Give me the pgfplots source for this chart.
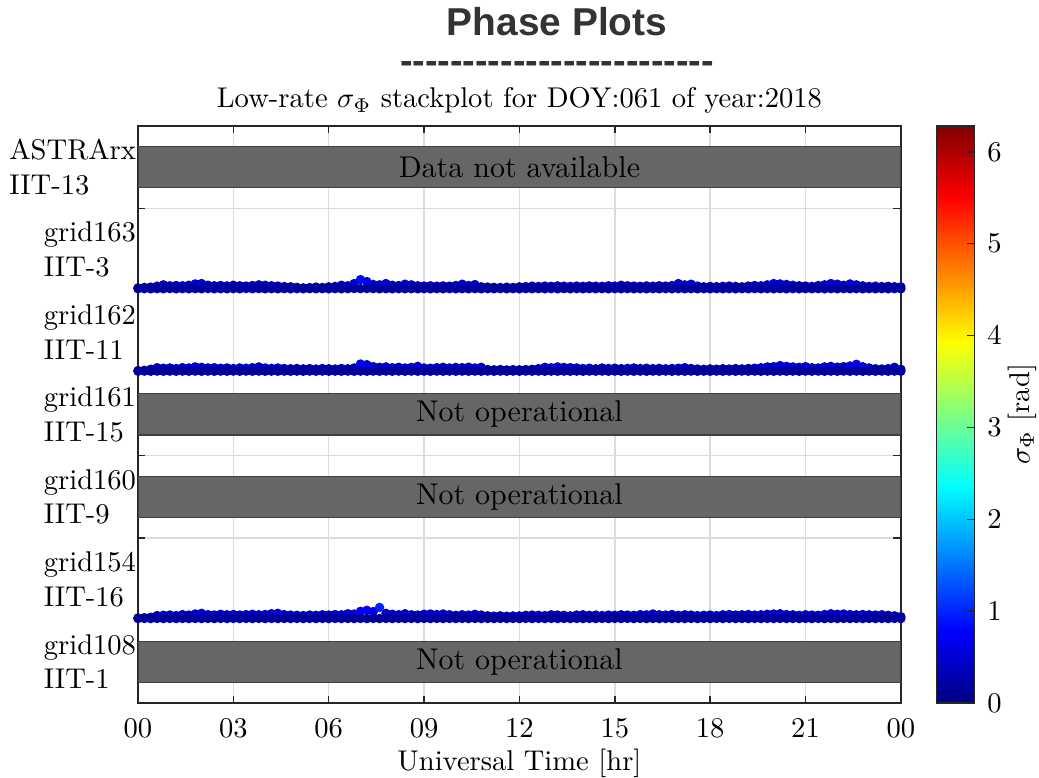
\documentclass[border=0pt]{standalone}
\usepackage{fontspec}
\usepackage{pgfplots}
\pgfplotsset{compat=1.18}
\usepackage{pgfplotstable}
\newfontfamily\headfont{Liberation Sans}
\definecolor{boxgray}{HTML}{666666}
\definecolor{axgray}{HTML}{262626}
\definecolor{gridgray}{HTML}{DCDCDC}
\definecolor{headgray}{HTML}{333333}

% grid163 / IIT-3 : x [hr], b = baseline sigma, u = upper sigma [rad]
\pgfplotstableread{
x b u
0.0 0.15 0.22
0.2 0.16 0.25
0.4 0.15 0.28
0.6 0.16 0.35
0.8 0.15 0.45
1.0 0.17 0.38
1.2 0.15 0.40
1.4 0.16 0.38
1.6 0.15 0.42
1.8 0.16 0.52
2.0 0.15 0.55
2.2 0.17 0.42
2.4 0.15 0.38
2.6 0.16 0.40
2.8 0.15 0.37
3.0 0.16 0.42
3.2 0.15 0.38
3.4 0.17 0.36
3.6 0.15 0.40
3.8 0.16 0.45
4.0 0.15 0.42
4.2 0.16 0.38
4.4 0.15 0.36
4.6 0.16 0.32
4.8 0.15 0.30
5.0 0.16 0.26
5.2 0.15 0.22
5.4 0.16 0.24
5.6 0.15 0.28
5.8 0.16 0.25
6.0 0.15 0.30
6.2 0.16 0.33
6.4 0.15 0.42
6.6 0.16 0.38
6.8 0.17 0.55
7.0 0.16 0.85
7.2 0.17 0.70
7.4 0.16 0.48
7.6 0.15 0.45
7.8 0.16 0.55
8.0 0.15 0.42
8.2 0.16 0.40
8.4 0.15 0.50
8.6 0.16 0.45
8.8 0.15 0.38
9.0 0.16 0.36
9.2 0.15 0.38
9.4 0.16 0.35
9.6 0.15 0.37
9.8 0.16 0.35
10.0 0.15 0.40
10.2 0.16 0.50
10.4 0.15 0.40
10.6 0.16 0.47
10.8 0.15 0.30
11.0 0.16 0.28
11.2 0.15 0.26
11.4 0.16 0.25
11.6 0.15 0.27
11.8 0.16 0.25
12.0 0.15 0.30
12.2 0.16 0.32
12.4 0.15 0.35
12.6 0.16 0.33
12.8 0.15 0.36
13.0 0.16 0.34
13.2 0.15 0.37
13.4 0.16 0.35
13.6 0.15 0.33
13.8 0.16 0.36
14.0 0.15 0.34
14.2 0.16 0.37
14.4 0.15 0.35
14.6 0.16 0.34
14.8 0.15 0.38
15.0 0.16 0.36
15.2 0.15 0.42
15.4 0.16 0.38
15.6 0.15 0.36
15.8 0.16 0.34
16.0 0.15 0.37
16.2 0.16 0.35
16.4 0.15 0.38
16.6 0.16 0.36
16.8 0.15 0.40
17.0 0.16 0.55
17.2 0.15 0.45
17.4 0.16 0.50
17.6 0.15 0.36
17.8 0.16 0.30
18.0 0.15 0.33
18.2 0.16 0.31
18.4 0.15 0.34
18.6 0.16 0.36
18.8 0.15 0.33
19.0 0.16 0.30
19.2 0.15 0.36
19.4 0.16 0.40
19.6 0.15 0.38
19.8 0.16 0.45
20.0 0.15 0.55
20.2 0.16 0.52
20.4 0.15 0.48
20.6 0.16 0.42
20.8 0.15 0.38
21.0 0.16 0.36
21.2 0.15 0.33
21.4 0.16 0.40
21.6 0.15 0.45
21.8 0.16 0.55
22.0 0.15 0.50
22.2 0.16 0.42
22.4 0.15 0.52
22.6 0.16 0.45
22.8 0.15 0.38
23.0 0.16 0.33
23.2 0.15 0.35
23.4 0.16 0.32
23.6 0.15 0.34
23.8 0.16 0.31
24.0 0.15 0.30
}\tgridA

% grid162 / IIT-11
\pgfplotstableread{
x b u
0.0 0.15 0.20
0.2 0.16 0.22
0.4 0.15 0.30
0.6 0.16 0.42
0.8 0.15 0.38
1.0 0.16 0.40
1.2 0.15 0.36
1.4 0.16 0.42
1.6 0.15 0.40
1.8 0.16 0.48
2.0 0.15 0.45
2.2 0.16 0.40
2.4 0.15 0.42
2.6 0.16 0.38
2.8 0.15 0.40
3.0 0.16 0.36
3.2 0.15 0.40
3.4 0.16 0.38
3.6 0.15 0.42
3.8 0.16 0.48
4.0 0.15 0.40
4.2 0.16 0.37
4.4 0.15 0.40
4.6 0.16 0.36
4.8 0.15 0.34
5.0 0.16 0.36
5.2 0.15 0.33
5.4 0.16 0.35
5.6 0.15 0.32
5.8 0.16 0.36
6.0 0.15 0.34
6.2 0.16 0.32
6.4 0.15 0.36
6.6 0.16 0.34
6.8 0.15 0.40
7.0 0.16 0.70
7.2 0.15 0.65
7.4 0.16 0.50
7.6 0.15 0.45
7.8 0.16 0.48
8.0 0.15 0.42
8.2 0.16 0.45
8.4 0.15 0.40
8.6 0.16 0.44
8.8 0.15 0.52
9.0 0.16 0.40
9.2 0.15 0.38
9.4 0.16 0.42
9.6 0.15 0.45
9.8 0.16 0.40
10.0 0.15 0.44
10.2 0.16 0.42
10.4 0.15 0.46
10.6 0.16 0.40
10.8 0.15 0.45
11.0 0.16 0.28
11.2 0.15 0.26
11.4 0.16 0.28
11.6 0.15 0.25
11.8 0.16 0.27
12.0 0.15 0.26
12.2 0.16 0.28
12.4 0.15 0.30
12.6 0.16 0.35
12.8 0.15 0.45
13.0 0.16 0.42
13.2 0.15 0.48
13.4 0.16 0.44
13.6 0.15 0.42
13.8 0.16 0.40
14.0 0.15 0.36
14.2 0.16 0.38
14.4 0.15 0.34
14.6 0.16 0.40
14.8 0.15 0.36
15.0 0.16 0.38
15.2 0.15 0.35
15.4 0.16 0.37
15.6 0.15 0.40
15.8 0.16 0.36
16.0 0.15 0.38
16.2 0.16 0.35
16.4 0.15 0.37
16.6 0.16 0.34
16.8 0.15 0.36
17.0 0.16 0.38
17.2 0.15 0.42
17.4 0.16 0.36
17.6 0.15 0.32
17.8 0.16 0.30
18.0 0.15 0.33
18.2 0.16 0.31
18.4 0.15 0.34
18.6 0.16 0.32
18.8 0.15 0.35
19.0 0.16 0.33
19.2 0.15 0.36
19.4 0.16 0.38
19.6 0.15 0.42
19.8 0.16 0.48
20.0 0.15 0.50
20.2 0.16 0.58
20.4 0.15 0.52
20.6 0.16 0.48
20.8 0.15 0.45
21.0 0.16 0.50
21.2 0.15 0.42
21.4 0.16 0.40
21.6 0.15 0.48
21.8 0.16 0.52
22.0 0.15 0.46
22.2 0.16 0.50
22.4 0.15 0.55
22.6 0.16 0.68
22.8 0.15 0.50
23.0 0.16 0.40
23.2 0.15 0.34
23.4 0.16 0.32
23.6 0.15 0.35
23.8 0.16 0.45
24.0 0.15 0.30
}\tgridB

% grid154 / IIT-16
\pgfplotstableread{
x b u
0.0 0.15 0.20
0.2 0.16 0.22
0.4 0.15 0.25
0.6 0.16 0.38
0.8 0.15 0.40
1.0 0.16 0.42
1.2 0.15 0.38
1.4 0.16 0.45
1.6 0.15 0.42
1.8 0.16 0.50
2.0 0.15 0.55
2.2 0.16 0.45
2.4 0.15 0.42
2.6 0.16 0.48
2.8 0.15 0.44
3.0 0.16 0.46
3.2 0.15 0.42
3.4 0.16 0.45
3.6 0.15 0.48
3.8 0.16 0.44
4.0 0.15 0.46
4.2 0.16 0.52
4.4 0.15 0.55
4.6 0.16 0.45
4.8 0.15 0.42
5.0 0.16 0.40
5.2 0.15 0.38
5.4 0.16 0.42
5.6 0.15 0.40
5.8 0.16 0.44
6.0 0.15 0.42
6.2 0.16 0.46
6.4 0.15 0.44
6.6 0.16 0.52
6.8 0.15 0.50
7.0 0.16 0.70
7.2 0.15 0.78
7.4 0.16 0.68
7.6 0.15 1.00
7.8 0.16 0.55
8.0 0.15 0.48
8.2 0.16 0.45
8.4 0.15 0.52
8.6 0.16 0.44
8.8 0.15 0.42
9.0 0.16 0.48
9.2 0.15 0.50
9.4 0.16 0.46
9.6 0.15 0.50
9.8 0.16 0.44
10.0 0.15 0.40
10.2 0.16 0.44
10.4 0.15 0.42
10.6 0.16 0.48
10.8 0.15 0.42
11.0 0.16 0.36
11.2 0.15 0.34
11.4 0.16 0.36
11.6 0.15 0.33
11.8 0.16 0.35
12.0 0.15 0.36
12.2 0.16 0.40
12.4 0.15 0.42
12.6 0.16 0.40
12.8 0.15 0.38
13.0 0.16 0.44
13.2 0.15 0.42
13.4 0.16 0.40
13.6 0.15 0.36
13.8 0.16 0.42
14.0 0.15 0.44
14.2 0.16 0.40
14.4 0.15 0.42
14.6 0.16 0.38
14.8 0.15 0.42
15.0 0.16 0.40
15.2 0.15 0.44
15.4 0.16 0.42
15.6 0.15 0.40
15.8 0.16 0.45
16.0 0.15 0.44
16.2 0.16 0.50
16.4 0.15 0.44
16.6 0.16 0.42
16.8 0.15 0.46
17.0 0.16 0.40
17.2 0.15 0.44
17.4 0.16 0.42
17.6 0.15 0.38
17.8 0.16 0.40
18.0 0.15 0.42
18.2 0.16 0.38
18.4 0.15 0.44
18.6 0.16 0.46
18.8 0.15 0.42
19.0 0.16 0.44
19.2 0.15 0.46
19.4 0.16 0.42
19.6 0.15 0.44
19.8 0.16 0.48
20.0 0.15 0.50
20.2 0.16 0.52
20.4 0.15 0.46
20.6 0.16 0.44
20.8 0.15 0.40
21.0 0.16 0.44
21.2 0.15 0.42
21.4 0.16 0.40
21.6 0.15 0.46
21.8 0.16 0.52
22.0 0.15 0.48
22.2 0.16 0.50
22.4 0.15 0.46
22.6 0.16 0.44
22.8 0.15 0.46
23.0 0.16 0.44
23.2 0.15 0.42
23.4 0.16 0.44
23.6 0.15 0.40
23.8 0.16 0.36
24.0 0.15 0.30
}\tgridC

\begin{document}
\begin{tikzpicture}
\begin{axis}[
  name=main,
  at={(0,0)}, anchor=south west,
  scale only axis,
  width=267pt, height=202pt,
  xmin=0, xmax=24, ymin=0, ymax=7,
  axis line style={axgray, line width=0.5pt},
  every tick/.style={axgray, line width=0.5pt},
  tick align=inside,
  major tick length=2.6pt,
  xtick={0,3,...,24},
  xticklabels={00,03,06,09,12,15,18,21,00},
  xticklabel style={anchor=base, yshift=-12.2pt},
  xmajorgrids=true,
  ytick={1,2,...,6},
  yticklabels={},
  ymajorgrids=true,
  grid style={gridgray, line width=0.5pt},
  extra y ticks={0.5,1.5,2.5,3.5,4.5,5.5,6.5},
  extra y tick labels={{grid108\\IIT-1},{grid154\\IIT-16},{grid160\\IIT-9},{grid161\\IIT-15},{grid162\\IIT-11},{grid163\\IIT-3},{ASTRArx\\IIT-13}},
  extra y tick style={major tick length=0pt, grid=none,
    yticklabel style={align=left, anchor=east, inner xsep=0.5pt}},
  title={Low-rate $\sigma_\Phi$ stackplot for DOY:061 of year:2018},
  title style={at={(0.5,1)}, anchor=base, yshift=0.3pt},
  xlabel={Universal Time [hr]},
  xlabel style={at={(0.5,0)}, anchor=base, yshift=-23.6pt},
  colormap/jet,
  point meta min=0, point meta max=6.2832,
  colorbar,
  colorbar style={
    at={(parent axis.north east)}, anchor=north west, xshift=3.9pt,
    width=13.3pt,
    ytick={0,1,...,6},
    ytick pos=right,
    tick align=inside,
    major tick length=2.6pt,
    axis line style={axgray, line width=0.5pt},
    yticklabel style={anchor=west, xshift=1pt},
    ylabel={$\sigma_\Phi$ [rad]},
    ylabel style={at={(axis description cs:1,0.5)}, anchor=center, yshift=-16.8pt},
  },
]
% unavailable / not operational rows
\addplot[fill=boxgray, draw=black!75, line width=0.4pt, mark=none] coordinates {(0,6.25) (24,6.25) (24,6.75) (0,6.75)} -- cycle;
\addplot[fill=boxgray, draw=black!75, line width=0.4pt, mark=none] coordinates {(0,3.25) (24,3.25) (24,3.75) (0,3.75)} -- cycle;
\addplot[fill=boxgray, draw=black!75, line width=0.4pt, mark=none] coordinates {(0,2.25) (24,2.25) (24,2.75) (0,2.75)} -- cycle;
\addplot[fill=boxgray, draw=black!75, line width=0.4pt, mark=none] coordinates {(0,0.25) (24,0.25) (24,0.75) (0,0.75)} -- cycle;
\node[font=\fontsize{10.5}{12}\selectfont] at (axis cs:12,6.5) {Data not available};
\node[font=\fontsize{10.5}{12}\selectfont] at (axis cs:12,3.5) {Not operational};
\node[font=\fontsize{10.5}{12}\selectfont] at (axis cs:12,2.5) {Not operational};
\node[font=\fontsize{10.5}{12}\selectfont] at (axis cs:12,0.5) {Not operational};
% grid163
\addplot[scatter, only marks, mark=*, mark size=1.45pt, point meta=explicit,
  scatter/use mapped color={draw=mapped color, fill=mapped color}]
  table[x=x, y expr={5+\thisrow{u}/6.2832}, meta=u] {\tgridA};
\addplot[scatter, only marks, mark=*, mark size=1.45pt, point meta=explicit,
  scatter/use mapped color={draw=mapped color, fill=mapped color}]
  table[x=x, y expr={5+\thisrow{b}/6.2832}, meta=b] {\tgridA};
% grid162
\addplot[scatter, only marks, mark=*, mark size=1.45pt, point meta=explicit,
  scatter/use mapped color={draw=mapped color, fill=mapped color}]
  table[x=x, y expr={4+\thisrow{u}/6.2832}, meta=u] {\tgridB};
\addplot[scatter, only marks, mark=*, mark size=1.45pt, point meta=explicit,
  scatter/use mapped color={draw=mapped color, fill=mapped color}]
  table[x=x, y expr={4+\thisrow{b}/6.2832}, meta=b] {\tgridB};
% grid154
\addplot[scatter, only marks, mark=*, mark size=1.45pt, point meta=explicit,
  scatter/use mapped color={draw=mapped color, fill=mapped color}]
  table[x=x, y expr={1+\thisrow{u}/6.2832}, meta=u] {\tgridC};
\addplot[scatter, only marks, mark=*, mark size=1.45pt, point meta=explicit,
  scatter/use mapped color={draw=mapped color, fill=mapped color}]
  table[x=x, y expr={1+\thisrow{b}/6.2832}, meta=b] {\tgridC};
\end{axis}
\node[anchor=base, text=headgray, font=\fontsize{13.6}{16}\selectfont\headfont\bfseries] at (146.65pt,233.5pt) {Phase Plots};
\node[anchor=base, text=headgray, font=\fontsize{13.2}{16}\selectfont\headfont\bfseries] at (146.65pt,220.15pt) {-------------------------};
\pgfresetboundingbox
\path[use as bounding box] (-48.3pt,-26.25pt) rectangle (315.35pt,246.05pt);
\end{tikzpicture}
\end{document}
